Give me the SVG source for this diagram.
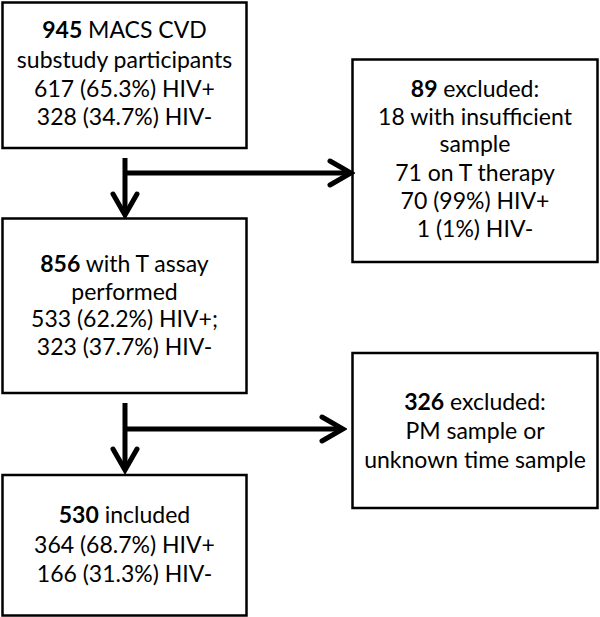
<svg xmlns="http://www.w3.org/2000/svg" width="600" height="617" viewBox="0 0 600 617">
<style>
.box{fill:#fff;stroke:#000;stroke-width:2.5}
.t{font-family:Lato,"Liberation Sans",sans-serif;font-size:23px;fill:#000;text-anchor:middle}
.b{font-weight:bold}
.c{stroke:#000;stroke-width:5;fill:none}
</style>
<defs>
<marker id="ah" markerUnits="userSpaceOnUse" viewBox="0 0 28 30" refX="22" refY="15" markerWidth="28" markerHeight="30" orient="auto">
<path d="M3,3 L24,15 L3,27" fill="none" stroke="#000" stroke-width="5" stroke-linecap="round" stroke-linejoin="miter"/>
</marker>
</defs>
<rect width="600" height="617" fill="#fff"/>
<g id="n945">
<rect class="box" x="2.5" y="2.5" width="244" height="145.5"/>
<text class="t" x="124.5" y="38"><tspan class="b">945</tspan> MACS CVD</text>
<text class="t" x="124.5" y="68">substudy participants</text>
<text class="t" x="124.5" y="97">617 (65.3%) HIV+</text>
<text class="t" x="124.5" y="125">328 (34.7%) HIV-</text>
</g>
<g id="n89">
<rect class="box" x="352.5" y="59.5" width="245" height="202.5"/>
<text class="t" x="475" y="96.5"><tspan class="b">89</tspan> excluded:</text>
<text class="t" x="475" y="124.5">18 with insufficient</text>
<text class="t" x="475" y="152">sample</text>
<text class="t" x="475" y="180.5">71 on T therapy</text>
<text class="t" x="475" y="208.5">70 (99%) HIV+</text>
<text class="t" x="475" y="236.5">1 (1%) HIV-</text>
</g>
<g id="n856">
<rect class="box" x="2.5" y="218.5" width="244" height="174.5"/>
<text class="t" x="124.5" y="271.5"><tspan class="b">856</tspan> with T assay</text>
<text class="t" x="124.5" y="299.5">performed</text>
<text class="t" x="124.5" y="327">533 (62.2%) HIV+;</text>
<text class="t" x="124.5" y="355">323 (37.7%) HIV-</text>
</g>
<g id="n326">
<rect class="box" x="352.5" y="353" width="245" height="155"/>
<text class="t" x="475" y="410"><tspan class="b">326</tspan> excluded:</text>
<text class="t" x="475" y="439">PM sample or</text>
<text class="t" x="475" y="468">unknown time sample</text>
</g>
<g id="n530">
<rect class="box" x="2.5" y="475" width="244" height="140.5"/>
<text class="t" x="124.5" y="523"><tspan class="b">530</tspan> included</text>
<text class="t" x="124.5" y="552.5">364 (68.7%) HIV+</text>
<text class="t" x="124.5" y="582">166 (31.3%) HIV-</text>
</g>
<g id="connectors">
<path class="c" d="M125,158 V213" marker-end="url(#ah)"/>
<path class="c" d="M125,173 H349" marker-end="url(#ah)"/>
<path class="c" d="M125,403 V468" marker-end="url(#ah)"/>
<path class="c" d="M125,429 H341" marker-end="url(#ah)"/>
</g>
</svg>
